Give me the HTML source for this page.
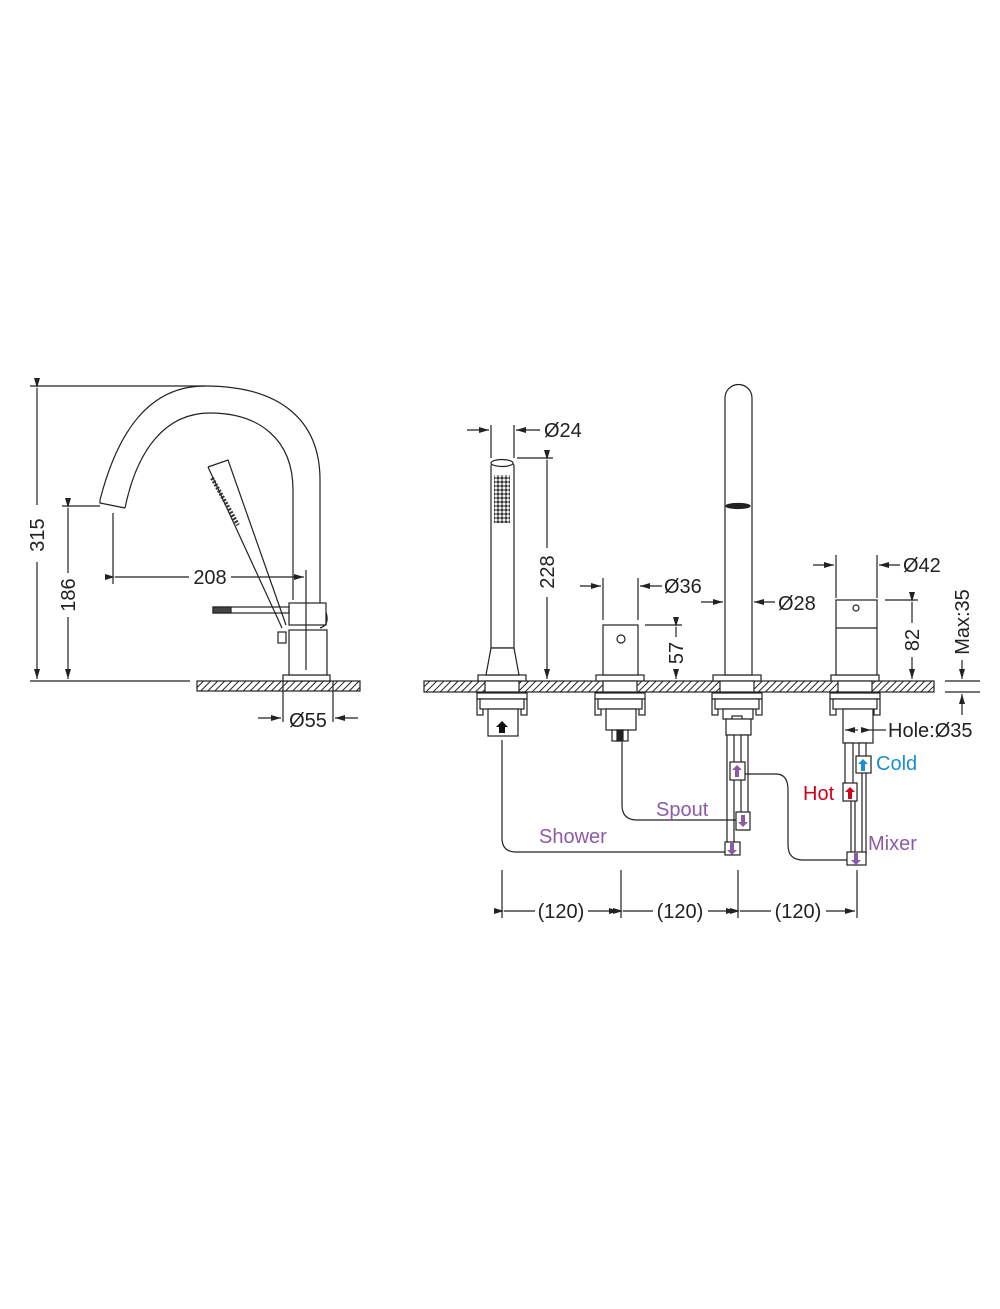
<!DOCTYPE html>
<html><head><meta charset="utf-8"><style>
html,body{margin:0;padding:0;background:#fff;}
svg{display:block;}
text{font-family:"Liberation Sans",sans-serif;font-size:20px;fill:#222;}
</style></head><body>
<svg width="1000" height="1309" viewBox="0 0 1000 1309" xmlns="http://www.w3.org/2000/svg">
<defs>
<pattern id="h" width="5" height="5" patternUnits="userSpaceOnUse" patternTransform="rotate(45)">
<rect width="5" height="5" fill="#fff"/><line x1="0" y1="0" x2="0" y2="5" stroke="#222" stroke-width="2"/></pattern>
<pattern id="d" width="4" height="4" patternUnits="userSpaceOnUse">
<rect width="4" height="4" fill="#fff"/><circle cx="2" cy="2" r="1.6" fill="#333"/></pattern>
<marker id="a" viewBox="0 0 10 6" refX="10" refY="3" markerWidth="10" markerHeight="6" orient="auto" markerUnits="userSpaceOnUse"><path d="M0,0 L10,3 L0,6 Z" fill="#222"/></marker>
<g id="asm" fill="#fff" stroke="#222" stroke-width="1.2">
<rect x="-24" y="675" width="48" height="6"/>
<rect x="-17" y="681" width="34" height="11"/>
<rect x="-25" y="693" width="50" height="6"/>
<rect x="-25" y="699" width="6" height="16"/><rect x="19" y="699" width="6" height="16"/>
<rect x="-22" y="699" width="44" height="10"/>
</g>
</defs>
<g fill="none" stroke="#222" stroke-width="1.2">
<rect x="197" y="681" width="163" height="10" fill="url(#h)"/>
<rect x="283" y="675" width="47" height="6" fill="#fff"/>
<rect x="289" y="630" width="38" height="45" fill="#fff"/>
<rect x="289" y="603" width="37" height="22" fill="#fff"/>
<path d="M326,612 Q330,625 320,628"/>
<rect x="278" y="632" width="8" height="11"/>
<rect x="213" y="607" width="76" height="6"/>
<rect x="213" y="607" width="18" height="6" fill="#444"/>
<path d="M320,603 L320,480 C320,420 280,386 205,386 C150,386 118,430 100,500"/>
<path d="M293,600 L293,490 C293,440 260,413 210,413 C165,413 137,450 125,508"/>
<path d="M100,500 L100,503 L125,508"/>
<path d="M208,467 L228,460 L286,625"/>
<path d="M208,467 L282,628"/>
<path d="M212,478 L238,525" stroke="#333" stroke-width="4" stroke-dasharray="2,1.5"/>
<line x1="30" y1="386" x2="205" y2="386"/>
<line x1="30" y1="681" x2="190" y2="681"/>
<line x1="37" y1="388" x2="37" y2="505" marker-start="url(#a)"/>
<line x1="37" y1="562" x2="37" y2="679" marker-end="url(#a)"/>
<line x1="62" y1="506" x2="100" y2="506"/>
<line x1="68" y1="508" x2="68" y2="573" marker-start="url(#a)"/>
<line x1="68" y1="617" x2="68" y2="679" marker-end="url(#a)"/>
<line x1="113" y1="513" x2="113" y2="584"/>
<line x1="306" y1="570" x2="306" y2="670"/>
<line x1="115" y1="577" x2="189" y2="577" marker-start="url(#a)"/>
<line x1="231" y1="577" x2="304" y2="577" marker-end="url(#a)"/>
<line x1="283" y1="681" x2="283" y2="722"/>
<line x1="333" y1="681" x2="333" y2="722"/>
<line x1="258" y1="718" x2="281" y2="718" marker-end="url(#a)"/>
<line x1="358" y1="718" x2="335" y2="718" marker-end="url(#a)"/>
<rect x="424" y="681" width="510" height="11" fill="url(#h)"/>
</g>
<use href="#asm" x="502"/><use href="#asm" x="620"/><use href="#asm" x="737"/><use href="#asm" x="855"/>
<g fill="#fff" stroke="#222" stroke-width="1.2">
<path d="M491,648 L491,466 A11.5,5 0 0 1 514,466 L514,648 Z"/>
<ellipse cx="502" cy="463" rx="11" ry="3.5"/>
<path d="M491,648 L514,648 L519,675 L486,675 Z"/>
<rect x="494" y="475" width="16" height="48" fill="url(#d)" stroke="none"/>
<rect x="488" y="709" width="30" height="27"/>
<path d="M499,733 L499,727 L496,727 L502,721 L508,727 L505,727 L505,733Z" fill="#111" stroke="none"/>
<rect x="603" y="625" width="35" height="50"/>
<circle cx="621" cy="639" r="4"/>
<rect x="606" y="709" width="30" height="21"/>
<rect x="612" y="730" width="16" height="11"/>
<rect x="617" y="730" width="6" height="11" fill="#222"/>
<path d="M725,675 L725,398 A13.5,13.5 0 0 1 752,398 L752,675 Z"/>
<ellipse cx="738" cy="506" rx="12" ry="2.5" fill="#222"/>
<rect x="723" y="709" width="30" height="10"/>
<rect x="732" y="716" width="10" height="6"/>
<rect x="726" y="719" width="25" height="16"/>
<rect x="727" y="735" width="7" height="110"/>
<rect x="741" y="735" width="7" height="95"/>
<rect x="836" y="600" width="41" height="75"/>
<line x1="836" y1="628" x2="877" y2="628"/>
<circle cx="856" cy="608" r="3"/>
<rect x="843" y="709" width="30" height="34"/>
<rect x="845" y="743" width="8" height="42"/>
<rect x="859" y="743" width="7" height="15"/>
<rect x="851" y="800" width="4" height="54"/>
<rect x="862" y="772" width="4" height="82"/>
</g>
<g fill="none" stroke="#222" stroke-width="1.2">
<path d="M502,740 L502,838 Q502,852 516,852 L726,852"/>
<path d="M622,742 L622,805 Q622,820 637,820 L736,820"/>
<path d="M745,774 L776,774 Q788,774 788,790 L788,845 Q788,860 803,860 L848,860"/>
<line x1="491" y1="425" x2="491" y2="458"/><line x1="514" y1="425" x2="514" y2="458"/>
<line x1="467" y1="430" x2="489" y2="430" marker-end="url(#a)"/>
<line x1="540" y1="430" x2="516" y2="430" marker-end="url(#a)"/>
<line x1="517" y1="458" x2="553" y2="458"/>
<line x1="547" y1="460" x2="547" y2="548" marker-start="url(#a)"/>
<line x1="547" y1="597" x2="547" y2="679" marker-end="url(#a)"/>
<line x1="603" y1="578" x2="603" y2="620"/><line x1="638" y1="578" x2="638" y2="620"/>
<line x1="580" y1="586" x2="601" y2="586" marker-end="url(#a)"/>
<line x1="662" y1="586" x2="640" y2="586" marker-end="url(#a)"/>
<line x1="645" y1="625" x2="682" y2="625"/>
<line x1="676" y1="627" x2="676" y2="637" marker-start="url(#a)"/>
<line x1="676" y1="669" x2="676" y2="679" marker-end="url(#a)"/>
<line x1="701" y1="602" x2="723" y2="602" marker-end="url(#a)"/>
<line x1="775" y1="602" x2="754" y2="602" marker-end="url(#a)"/>
<line x1="836" y1="555" x2="836" y2="598"/><line x1="877" y1="555" x2="877" y2="598"/>
<line x1="813" y1="565" x2="834" y2="565" marker-end="url(#a)"/>
<line x1="900" y1="565" x2="879" y2="565" marker-end="url(#a)"/>
<line x1="885" y1="600" x2="918" y2="600"/>
<line x1="912" y1="602" x2="912" y2="623" marker-start="url(#a)"/>
<line x1="912" y1="657" x2="912" y2="679" marker-end="url(#a)"/>
<line x1="945" y1="681" x2="980" y2="681"/><line x1="945" y1="692" x2="980" y2="692"/>
<line x1="962" y1="660" x2="962" y2="679" marker-end="url(#a)"/>
<line x1="962" y1="715" x2="962" y2="694" marker-end="url(#a)"/>
<line x1="858" y1="730" x2="845" y2="730" marker-end="url(#a)"/>
<line x1="862" y1="730" x2="871" y2="730" marker-end="url(#a)"/>
<line x1="871" y1="730" x2="886" y2="730"/>
<line x1="502" y1="870" x2="502" y2="918"/><line x1="621" y1="870" x2="621" y2="918"/>
<line x1="738" y1="870" x2="738" y2="918"/><line x1="857" y1="870" x2="857" y2="918"/>
<line x1="504" y1="911" x2="535" y2="911" marker-start="url(#a)"/>
<line x1="588" y1="911" x2="619" y2="911" marker-end="url(#a)"/>
<line x1="623" y1="911" x2="653" y2="911" marker-start="url(#a)"/>
<line x1="708" y1="911" x2="736" y2="911" marker-end="url(#a)"/>
<line x1="740" y1="911" x2="771" y2="911" marker-start="url(#a)"/>
<line x1="826" y1="911" x2="855" y2="911" marker-end="url(#a)"/>
</g>
<g stroke="#222" stroke-width="1.2" fill="#fff">
<rect x="730" y="762" width="15" height="18"/>
<rect x="736" y="812" width="14" height="18"/>
<rect x="725" y="842" width="15" height="13"/>
<rect x="847" y="852" width="19" height="13"/>
<rect x="843" y="783" width="14" height="18"/>
<rect x="856" y="756" width="15" height="17"/>
</g>
<g stroke="none">
<path d="M735,777 v-7 h-3 l5,-5 l5,5 h-3 v7z" fill="#8e5aa8"/>
<path d="M741,815 v7 h-3 l5,5 l5,-5 h-3 v-7z" fill="#8e5aa8"/>
<path d="M730,843 v7 h-3 l5,5 l5,-5 h-3 v-7z" fill="#8e5aa8"/>
<path d="M854,853 v7 h-3 l5,5 l5,-5 h-3 v-7z" fill="#8e5aa8"/>
<path d="M848,799 v-7 h-3 l5,-5 l5,5 h-3 v7z" fill="#d0021b"/>
<path d="M861,771 v-7 h-3 l5,-5 l5,5 h-3 v7z" fill="#1a8fd0"/>
</g>
<text x="37" y="535" text-anchor="middle" transform="rotate(-90 37 535)" dy="7">315</text>
<text x="68" y="595" text-anchor="middle" transform="rotate(-90 68 595)" dy="7">186</text>
<text x="210" y="584" text-anchor="middle">208</text>
<text x="308" y="727" text-anchor="middle">Ø55</text>
<text x="544" y="437">Ø24</text>
<text x="547" y="572" text-anchor="middle" transform="rotate(-90 547 572)" dy="7">228</text>
<text x="664" y="593">Ø36</text>
<text x="676" y="653" text-anchor="middle" transform="rotate(-90 676 653)" dy="7">57</text>
<text x="778" y="610">Ø28</text>
<text x="903" y="572">Ø42</text>
<text x="912" y="640" text-anchor="middle" transform="rotate(-90 912 640)" dy="7">82</text>
<text x="962" y="622" text-anchor="middle" transform="rotate(-90 962 622)" dy="7">Max:35</text>
<text x="888" y="737">Hole:Ø35</text>
<text x="561" y="918" text-anchor="middle">(120)</text>
<text x="680" y="918" text-anchor="middle">(120)</text>
<text x="798" y="918" text-anchor="middle">(120)</text>
<text x="539" y="843" style="fill:#8e5aa8">Shower</text>
<text x="656" y="816" style="fill:#8e5aa8">Spout</text>
<text x="868" y="850" style="fill:#8e5aa8">Mixer</text>
<text x="803" y="800" style="fill:#d0021b">Hot</text>
<text x="876" y="770" style="fill:#1a8fd0">Cold</text>
</svg>
</body></html>
